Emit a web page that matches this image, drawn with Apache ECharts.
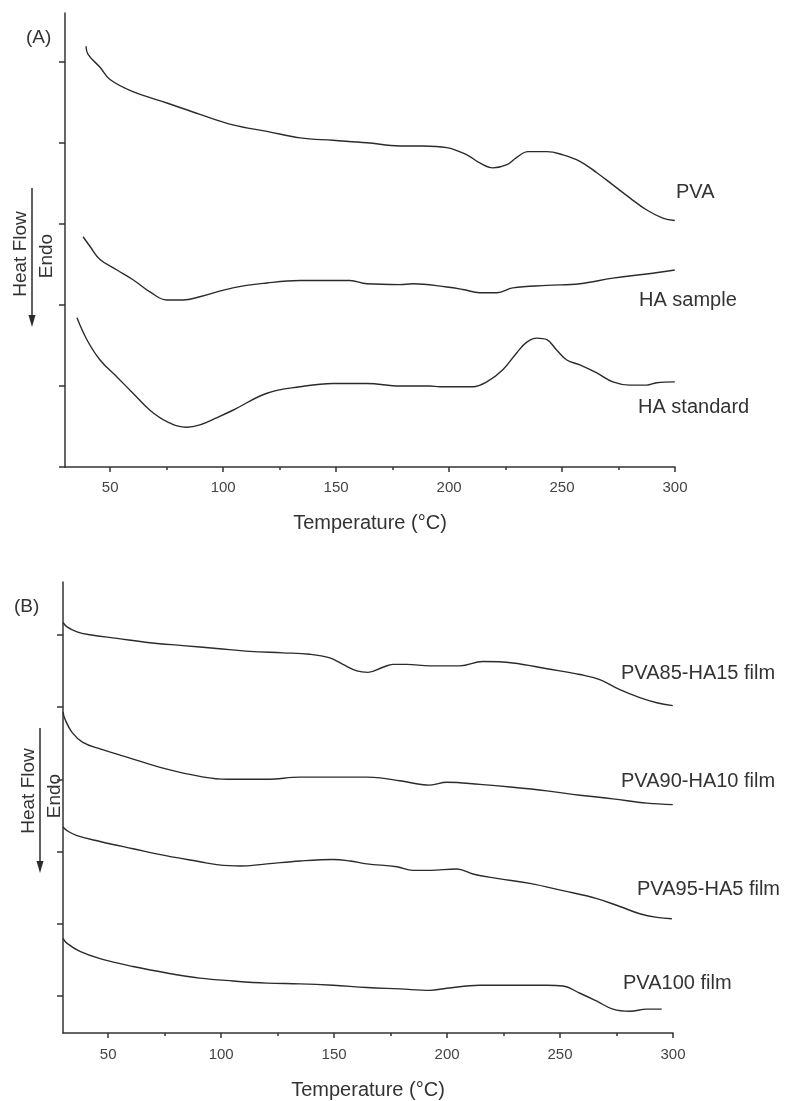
<!DOCTYPE html>
<html>
<head>
<meta charset="utf-8">
<script src="https://cdn.jsdelivr.net/npm/echarts@6/dist/echarts.min.js"></script>
<style>
  html, body { margin: 0; padding: 0; background: #fff; }
  #main { width: 787px; height: 1101px; }
</style>
</head>
<body>
<div id="main"></div>
<script>
// ---- panel (A) DSC traces, temperature in C, heat flow in arbitrary units
var pvaTemp = [39.3, 40.2, 45.5, 49.9, 60.1, 75.1, 89.7, 104.3, 119.4, 134, 148.6, 163.6, 178.2, 188.4, 199, 207.9, 213.6, 219.4, 225.6, 230, 234.9, 243.3, 250.4, 257.9, 265.4, 272.5, 280, 287.5, 294.6, 299.9]
var pvaFlow = [5.19, 5.09, 4.93, 4.78, 4.63, 4.49, 4.35, 4.22, 4.14, 4.06, 4.03, 4.0, 3.96, 3.96, 3.94, 3.85, 3.75, 3.69, 3.73, 3.82, 3.89, 3.89, 3.85, 3.77, 3.63, 3.48, 3.32, 3.17, 3.07, 3.04]

var haSampleTemp = [38.0, 41.1, 45.5, 53.0, 60.1, 67.6, 75.1, 82.2, 89.7, 104.3, 119.4, 134, 148.6, 156.1, 163.6, 178.2, 184, 199, 206.1, 213.6, 221.2, 228.2, 243.3, 257.9, 272.5, 287.5, 299.9]
var haSampleFlow = [2.84, 2.72, 2.56, 2.43, 2.31, 2.16, 2.06, 2.06, 2.10, 2.21, 2.27, 2.30, 2.30, 2.30, 2.26, 2.25, 2.26, 2.22, 2.19, 2.15, 2.15, 2.21, 2.24, 2.26, 2.33, 2.38, 2.43]

var haStdTemp = [35.3, 39.7, 45.5, 53.0, 60.1, 67.6, 75.1, 84.0, 89.7, 97.3, 104.3, 119.4, 134, 148.6, 163.6, 178.2, 191.5, 195.9, 210.5, 216.7, 223.8, 230, 234.4, 238.8, 243.3, 247.7, 252.1, 257.9, 265.4, 272.5, 280, 287.5, 291.9, 299.9]
var haStdFlow = [1.84, 1.57, 1.32, 1.11, 0.91, 0.70, 0.56, 0.49, 0.52, 0.61, 0.70, 0.91, 0.99, 1.03, 1.03, 1.0, 1.0, 0.99, 0.99, 1.05, 1.20, 1.41, 1.54, 1.59, 1.57, 1.44, 1.32, 1.26, 1.16, 1.05, 1.01, 1.01, 1.04, 1.05]

// ---- panel (B) film traces
var f85Temp = [30, 31.8, 36.2, 41.9, 53.9, 68.5, 83.1, 98.1, 112.7, 127.3, 139.3, 148.1, 153.9, 160.1, 165, 171.6, 176, 182.2, 192.4, 205.7, 215.8, 229.1, 244.2, 258.8, 267.6, 276.5, 285.3, 292.8, 299.9]
var f85Flow = [5.17, 5.11, 5.04, 5.0, 4.95, 4.89, 4.85, 4.81, 4.77, 4.75, 4.73, 4.68, 4.59, 4.50, 4.48, 4.55, 4.59, 4.59, 4.57, 4.57, 4.63, 4.61, 4.53, 4.45, 4.38, 4.24, 4.13, 4.06, 4.02]

var f90Temp = [30, 30.9, 34.0, 38.8, 46.4, 61.0, 76.0, 90.6, 102.6, 120.3, 134.9, 149.5, 164.5, 170.3, 179.1, 192.4, 199.9, 214.5, 229.1, 244.2, 258.8, 273.4, 288.4, 299.9]
var f90Flow = [3.93, 3.83, 3.65, 3.51, 3.42, 3.28, 3.14, 3.04, 3.0, 3.0, 3.03, 3.03, 3.03, 3.02, 2.98, 2.92, 2.96, 2.93, 2.89, 2.84, 2.78, 2.73, 2.67, 2.65]

var f95Temp = [30, 31.8, 36.2, 46.4, 61.0, 76.0, 90.6, 98.1, 108.3, 120.3, 134.9, 149.5, 157, 164.5, 177.8, 184.9, 192.4, 204.3, 211.4, 222, 236.6, 251.2, 266.3, 276.5, 285.3, 292.8, 299.5]
var f95Flow = [2.34, 2.29, 2.22, 2.14, 2.04, 1.94, 1.86, 1.82, 1.80, 1.83, 1.87, 1.89, 1.87, 1.83, 1.79, 1.74, 1.74, 1.76, 1.69, 1.63, 1.56, 1.46, 1.35, 1.24, 1.14, 1.09, 1.07]

var f100Temp = [30, 31.8, 37.5, 46.4, 61.0, 76.0, 90.6, 105.2, 120.3, 134.9, 149.5, 164.5, 179.1, 192.4, 199.9, 214.5, 229.1, 244.2, 251.2, 258.8, 266.3, 273.4, 280.9, 288.4, 295]
var f100Flow = [0.80, 0.73, 0.62, 0.52, 0.41, 0.32, 0.25, 0.21, 0.18, 0.17, 0.15, 0.12, 0.10, 0.08, 0.11, 0.15, 0.15, 0.15, 0.14, 0.04, -0.07, -0.18, -0.21, -0.18, -0.18]

// axis ticks
var majorTicks = [50, 100, 150, 200, 250, 300]
var minorTicks = [75, 125, 175, 225, 275]
var flowTicks = [0, 1, 2, 3, 4, 5]

var FONT = 'Liberation Sans, Arial, sans-serif'
var INK = '#2b2b2b'

function zip (xs, ys) {
  return xs.map(function (x, i) { return [x, ys[i]] })
}

function mainXAxis (gridIndex, labelMargin, nameGap) {
  return {
    type: 'value',
    gridIndex: gridIndex,
    position: 'bottom',
    min: 30,
    max: 300,
    axisLine: { onZero: false, lineStyle: { color: '#333', width: 1.5 } },
    axisTick: { customValues: majorTicks, length: 5, lineStyle: { color: '#333', width: 1.5 } },
    axisLabel: { customValues: majorTicks, margin: labelMargin, fontSize: 15, color: '#444', fontFamily: FONT },
    splitLine: { show: false },
    name: 'Temperature (°C)',
    nameLocation: 'middle',
    nameGap: nameGap,
    nameTextStyle: { fontSize: 20, color: '#333', fontFamily: FONT }
  }
}

function minorXAxis (gridIndex) {
  return {
    type: 'value',
    gridIndex: gridIndex,
    position: 'bottom',
    min: 30,
    max: 300,
    axisLine: { show: false, onZero: false },
    axisTick: { customValues: minorTicks, length: 3, lineStyle: { color: '#333', width: 1.5 } },
    axisLabel: { show: false },
    splitLine: { show: false }
  }
}

function flowYAxis (gridIndex, min, max) {
  return {
    type: 'value',
    gridIndex: gridIndex,
    min: min,
    max: max,
    axisLine: { show: true, onZero: false, lineStyle: { color: '#333', width: 1.5 } },
    axisTick: { show: true, customValues: flowTicks, length: 6, lineStyle: { color: '#333', width: 1.5 } },
    axisLabel: { show: false },
    splitLine: { show: false }
  }
}

function trace (name, xs, ys, xIdx, yIdx) {
  return {
    name: name,
    type: 'line',
    xAxisIndex: xIdx,
    yAxisIndex: yIdx,
    data: zip(xs, ys),
    showSymbol: false,
    symbol: 'none',
    smooth: 0.4,
    lineStyle: { color: INK, width: 1.4 }
  }
}

function label (text, x, y, size) {
  return {
    type: 'text',
    x: x,
    y: y,
    style: { text: text, fontSize: size || 20, fontFamily: FONT, fill: '#333', align: 'left', verticalAlign: 'middle' }
  }
}

function heatFlowMarker (lineX, top, tip, textX, endoX, cy, endoY) {
  return [
    { type: 'line', shape: { x1: lineX, y1: top, x2: lineX, y2: tip - 10 }, style: { stroke: INK, lineWidth: 1.5 } },
    { type: 'polygon', shape: { points: [[lineX - 3.5, tip - 12], [lineX + 3.5, tip - 12], [lineX, tip]] }, style: { fill: INK } },
    { type: 'text', x: textX, y: cy, rotation: Math.PI / 2, style: { text: 'Heat Flow', fontSize: 19, fontFamily: FONT, fill: '#333', align: 'center', verticalAlign: 'middle' } },
    { type: 'text', x: endoX, y: endoY, rotation: Math.PI / 2, style: { text: 'Endo', fontSize: 19, fontFamily: FONT, fill: '#333', align: 'center', verticalAlign: 'middle' } }
  ]
}

var chart = echarts.init(document.getElementById('main'))

chart.setOption({
  animation: false,
  backgroundColor: '#fff',
  grid: [
    { left: 65, top: 13, width: 610, height: 454 },
    { left: 63, top: 582, width: 610, height: 453 }
  ],
  xAxis: [
    mainXAxis(0, 13, 46),
    minorXAxis(0),
    mainXAxis(1, 14, 47),
    minorXAxis(1)
  ],
  yAxis: [
    flowYAxis(0, 0, 5.6),
    flowYAxis(1, -0.51, 5.73)
  ],
  series: [
    trace('PVA', pvaTemp, pvaFlow, 0, 0),
    trace('HA sample', haSampleTemp, haSampleFlow, 0, 0),
    trace('HA standard', haStdTemp, haStdFlow, 0, 0),
    trace('PVA85-HA15 film', f85Temp, f85Flow, 2, 1),
    trace('PVA90-HA10 film', f90Temp, f90Flow, 2, 1),
    trace('PVA95-HA5 film', f95Temp, f95Flow, 2, 1),
    trace('PVA100 film', f100Temp, f100Flow, 2, 1)
  ],
  graphic: [
    label('(A)', 26, 38, 19),
    label('(B)', 14, 607, 19),
    label('PVA', 676, 192),
    label('HA sample', 639, 300),
    label('HA standard', 638, 407),
    label('PVA85-HA15 film', 621, 673),
    label('PVA90-HA10 film', 621, 781),
    label('PVA95-HA5 film', 637, 889),
    label('PVA100 film', 623, 983)
  ].concat(
    heatFlowMarker(32, 188, 327, 21, 47, 254, 256),
    heatFlowMarker(40, 728, 873, 29, 55, 791, 796)
  )
})
</script>
</body>
</html>
